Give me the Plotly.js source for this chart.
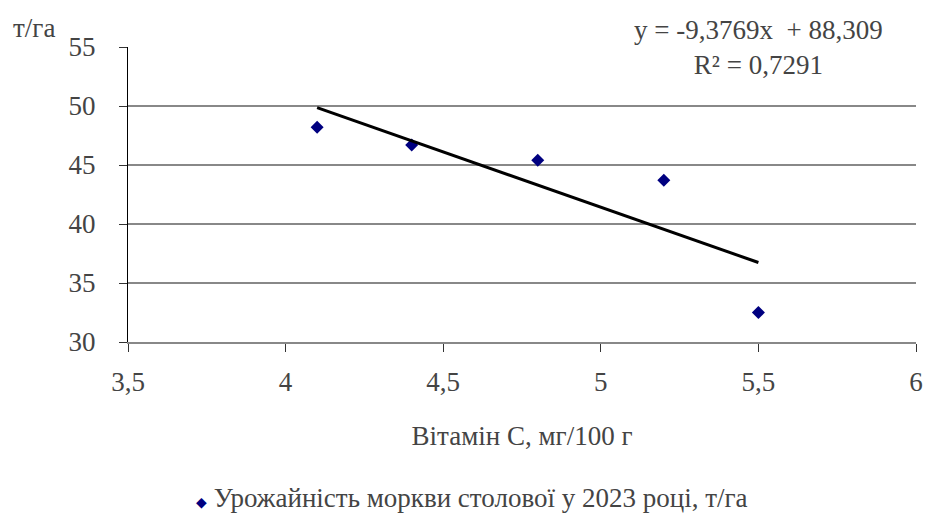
<!DOCTYPE html>
<html><head><meta charset="utf-8">
<script src="https://cdn.plot.ly/plotly-3.0.1.min.js"></script>
<style>html,body{margin:0;padding:0;background:#fff}#chart{width:929px;height:520px}</style>
</head><body><div id="chart"></div>
<script>
const vitaminC = [4.1, 4.4, 4.8, 5.2, 5.5];
const yieldT = [48.2, 46.7, 45.4, 43.7, 32.5];
const trendSlope = [-9.3769];
const trendIntercept = [88.309];
const rSquared = ['0,7291'];
const xTickVals = [3.5, 4, 4.5, 5, 5.5, 6];
const xTickText = ['3,5', '4', '4,5', '5', '5,5', '6'];
const yTickVals = [30, 35, 40, 45, 50, 55];
const yTickText = ['30', '35', '40', '45', '50', '55'];
const gridVals = [35, 40, 45, 50];
const seriesName = 'Урожайність моркви столової у 2023 році, т/га';
const xTitle = 'Вітамін С, мг/100 г';
const yUnit = 'т/га';

const xMin = Math.min(...vitaminC), xMax = Math.max(...vitaminC);
const trendX = [xMin, xMax];
const trendY = trendX.map(x => trendSlope[0] * x + trendIntercept[0]);

const F = 'Liberation Serif';
const S = 27;
const data = [
  {x: vitaminC, y: yieldT, type: 'scatter', mode: 'markers', name: seriesName, showlegend: false,
   marker: {symbol: 'diamond', size: 10, color: '#000080'}},
  {x: trendX, y: trendY, type: 'scatter', mode: 'lines', showlegend: false,
   line: {color: '#000', width: 3}, hoverinfo: 'skip'}
];
const shapes = gridVals.map(v => ({type: 'line', xref: 'paper', x0: 0, x1: 1, yref: 'y', y0: v, y1: v,
  line: {color: '#888', width: 2}, layer: 'below'}));
const fmt = v => String(v).replace('.', ',');
const layout = {
  width: 929, height: 520,
  margin: {l: 128, r: 13, t: 47, b: 178},
  paper_bgcolor: '#fff', plot_bgcolor: '#fff',
  showlegend: false,
  xaxis: {range: [3.5, 6], tickmode: 'array', tickvals: xTickVals, ticktext: xTickText,
    showgrid: false, zeroline: false,
    showline: true, linecolor: '#888', linewidth: 2, ticks: 'outside', ticklen: 8, tickcolor: '#333',
    tickfont: {family: F, size: S}, ticklabelstandoff: 7,
    title: {text: xTitle, font: {family: F, size: S}, standoff: 30}},
  yaxis: {range: [30, 55], tickmode: 'array', tickvals: yTickVals, ticktext: yTickText,
    showgrid: false, zeroline: false,
    showline: true, linecolor: '#000', linewidth: 1, ticks: 'outside', ticklen: 8, tickcolor: '#333',
    tickfont: {family: F, size: S}, ticklabelstandoff: 18},
  shapes: shapes,
  annotations: [
    {text: yUnit, xref: 'paper', yref: 'paper', x: -0.148, y: 1.064, xanchor: 'left', yanchor: 'middle',
     showarrow: false, font: {family: F, size: S}},
    {text: 'y = ' + fmt(trendSlope[0]) + 'x  + ' + fmt(trendIntercept[0]) + '<br>R² = ' + rSquared[0],
     xref: 'paper', yref: 'paper', x: 0.80, y: 1.0, xanchor: 'center', yanchor: 'middle',
     showarrow: false, align: 'center', font: {family: F, size: S}},
    {text: '<span style="color:#000080;font-size:14px">◆</span> ' + seriesName,
     xref: 'paper', yref: 'paper', x: 0.437, y: (342 - 498) / 295, xanchor: 'center', yanchor: 'middle',
     showarrow: false, font: {family: F, size: S}}
  ]
};
Plotly.newPlot('chart', data, layout, {displayModeBar: false, staticPlot: true});
</script></body></html>
